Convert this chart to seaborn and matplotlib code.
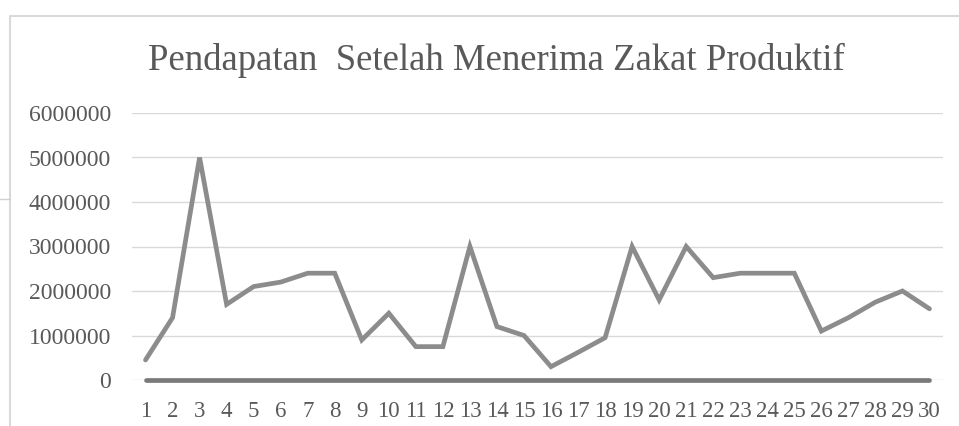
import pandas as pd
import matplotlib.pyplot as plt
from matplotlib.lines import Line2D
import seaborn as sns

# data
responden = list(range(1, 31))
pendapatan = [450000, 1400000, 5000000, 1700000, 2100000, 2200000, 2400000, 2400000,
              900000, 1500000, 750000, 750000, 3000000, 1200000, 1000000, 300000,
              620000, 950000, 3000000, 1800000, 3000000, 2300000, 2400000, 2400000,
              2400000, 1100000, 1400000, 1750000, 2000000, 1600000]
seri_nol = [0] * 30
y_ticks = [0, 1000000, 2000000, 3000000, 4000000, 5000000, 6000000]
judul = 'Pendapatan  Setelah Menerima Zakat Produktif'

df = pd.DataFrame({'no': responden, 'pendapatan': pendapatan, 'nol': seri_nol})

sns.set_style('white')
plt.rcParams['font.family'] = ['Liberation Serif', 'DejaVu Serif']

fig = plt.figure(figsize=(9.59, 4.26), dpi=100)
ax = fig.add_axes([132 / 959, 1 - 380 / 426, (943 - 132) / 959, (380 - 113) / 426])

sns.lineplot(x='no', y='pendapatan', data=df, ax=ax, color='#8c8c8c', linewidth=3.4,
             solid_joinstyle='miter', zorder=3)
sns.lineplot(x='no', y='nol', data=df, ax=ax, color='#7a7a7a', linewidth=3.4,
             zorder=4, clip_on=False)

ax.set_xlim(0.5, 30.5)
ax.set_ylim(0, 6000000)
ax.set_yticks(y_ticks)
ax.set_yticklabels([str(v) for v in y_ticks])
ax.set_xticks(responden)
ax.set_xticklabels([str(v) for v in responden])
ax.yaxis.grid(True, color='#d9d9d9', linewidth=1)
ax.xaxis.grid(False)
for s in ax.spines.values():
    s.set_visible(False)
ax.tick_params(axis='y', length=0, pad=15, labelsize=17, labelcolor='#595959')
ax.tick_params(axis='x', length=0, pad=15, labelsize=16.5, labelcolor='#595959')
ax.set_xlabel('')
ax.set_ylabel('')

fig.text(496.5 / 959, 1 - 60 / 426, judul, ha='center', va='center', fontsize=26.5,
         color='#595959')

# chart area border
fig.add_artist(Line2D([10 / 959, 10 / 959, 1], [0, 1 - 16 / 426, 1 - 16 / 426],
                      color='#d9d9d9', linewidth=1.5, transform=fig.transFigure))
fig.add_artist(Line2D([0, 10 / 959], [1 - 199 / 426, 1 - 199 / 426],
                      color='#d0d0d0', linewidth=1, transform=fig.transFigure))

fig.savefig('out.png', dpi=100)
